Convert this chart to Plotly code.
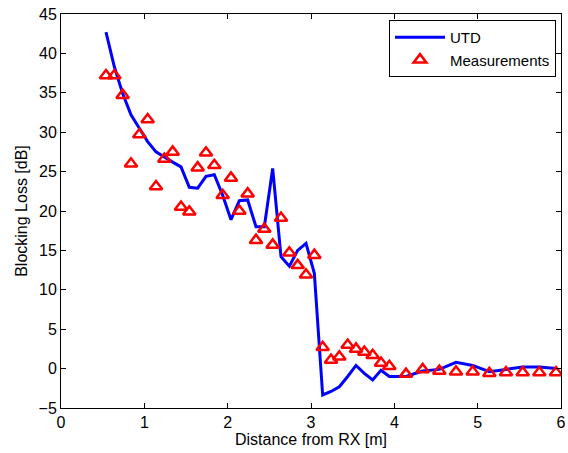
import plotly.graph_objects as go

distance = [0.54, 0.64, 0.74, 0.84, 0.94, 1.04, 1.14, 1.24, 1.34, 1.44,
            1.54, 1.64, 1.74, 1.84, 1.94, 2.04, 2.14, 2.24, 2.34, 2.44,
            2.54, 2.64, 2.74, 2.84, 2.94, 3.04, 3.14, 3.24, 3.34, 3.44,
            3.54, 3.64, 3.74, 3.84, 3.94, 4.14, 4.34, 4.54, 4.74, 4.94,
            5.14, 5.34, 5.54, 5.74, 5.94]

utd = [42.7, 38.3, 34.9, 32.2, 30.5, 28.8, 27.5, 26.8, 26.2, 25.6,
       23.0, 22.9, 24.4, 24.6, 22.0, 18.9, 21.3, 21.4, 18.0, 18.0,
       25.4, 14.2, 13.0, 15.0, 15.9, 12.1, -3.35, -2.9, -2.3, -1.0,
       0.4, -0.6, -1.45, -0.2, -1.0, -1.0, -0.3, -0.1, 0.8, 0.4,
       -0.4, -0.1, 0.2, 0.2, 0.0]

measurements = [37.2, 37.2, 34.7, 26.0, 29.7, 31.6, 23.1, 26.6, 27.5, 20.5,
                19.9, 25.5, 27.4, 25.8, 22.0, 24.2, 20.0, 22.2, 16.3, 17.7,
                15.7, 19.1, 14.7, 13.1, 11.9, 14.4, 2.7, 1.1, 1.5, 3.0,
                2.5, 2.1, 1.7, 0.7, 0.3, -0.7, -0.1, -0.3, -0.4, -0.4,
                -0.6, -0.5, -0.5, -0.5, -0.5]

x_ticks = [0, 1, 2, 3, 4, 5, 6]
y_ticks = [-5, 0, 5, 10, 15, 20, 25, 30, 35, 40, 45]

fig = go.Figure()
fig.add_trace(go.Scatter(
    x=distance, y=utd, mode="lines", name="UTD",
    line=dict(color="#0000FF", width=3),
))
fig.add_trace(go.Scatter(
    x=distance, y=measurements, mode="markers", name="Measurements",
    marker=dict(symbol="triangle-up-open", size=11, color="#FF0000",
                line=dict(width=2.5, color="#FF0000")),
))

axis_common = dict(
    showline=True, linecolor="black", linewidth=1, mirror="ticks",
    ticks="inside", ticklen=5, tickcolor="black", showgrid=False,
    zeroline=False, tickfont=dict(size=16, color="black"),
    automargin=False, ticklabeloverflow="allow",
)

fig.update_layout(
    width=568, height=453,
    margin=dict(l=61, r=7, t=14, b=45),
    paper_bgcolor="white", plot_bgcolor="white",
    font=dict(family="Liberation Sans, Arial, sans-serif", color="black"),
    showlegend=True,
    legend=dict(
        x=0.99, y=0.985, xanchor="right", yanchor="top",
        bordercolor="black", borderwidth=1, bgcolor="white",
        font=dict(size=15, color="black"),
        tracegroupgap=0, itemwidth=50,
    ),
    xaxis=dict(range=[0, 6], tickvals=x_ticks,
               title=dict(text="Distance from RX [m]", font=dict(size=16), standoff=2),
               **axis_common),
    yaxis=dict(range=[-5, 45], tickvals=y_ticks,
               title=dict(text="Blocking Loss [dB]", font=dict(size=16), standoff=6),
               **axis_common),
)

fig.write_html(
    "out.html",
    config={"displayModeBar": False},
    post_script="document.body.style.margin='0';document.body.style.overflow='hidden';",
)
